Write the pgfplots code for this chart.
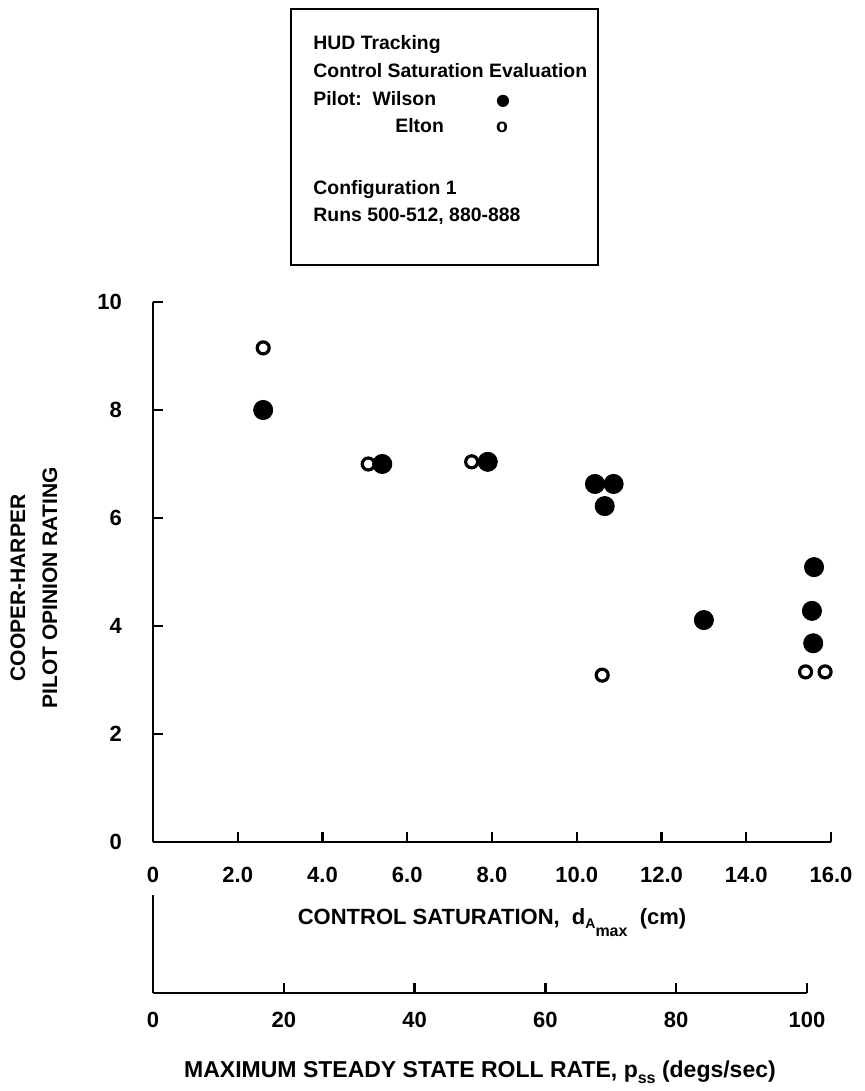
\documentclass[border=0pt]{standalone}
\usepackage{pgfplots}
\pgfplotsset{compat=1.18}
\usepackage{fontspec}
\setmainfont{Liberation Sans}
\newfontfamily\symfont{DejaVu Sans}
\begin{document}
\begin{tikzpicture}[x=1pt,y=1pt]
\useasboundingbox (0,0) rectangle (432,545.5);
% ---------- info box ----------
\draw[line width=1pt] (145.5,413) rectangle (299,541);
\begin{scope}[every node/.style={anchor=base west, inner sep=0pt, font=\bfseries\fontsize{9.7}{11}\selectfont}]
\node at (156.5,520.5) {HUD Tracking};
\node at (156.5,506.5) {Control Saturation Evaluation};
\node at (156.5,492.5) {Pilot:\ \ Wilson};
\node at (197.5,479) {Elton};
\node at (156.5,448) {Configuration 1};
\node at (156.5,434.5) {Runs 500-512, 880-888};
\end{scope}
\node[anchor=base, inner sep=0pt, font=\symfont\fontsize{8}{9}\selectfont] at (251.5,492.5) {●};
\node[anchor=base, inner sep=0pt, font=\bfseries\fontsize{9.7}{11}\selectfont] at (251,479) {o};
% ---------- main axis ----------
\begin{axis}[
  at={(76.5pt,124.5pt)}, anchor=south west,
  scale only axis, width=339pt, height=270pt,
  xmin=0, xmax=16, ymin=0, ymax=10,
  axis x line=bottom, axis y line=left,
  axis line style={-, line width=1.4pt},
  tick align=inside, major tick length=5pt,
  every tick/.style={black, line width=1.2pt},
  xtick={0,2,...,16},
  xticklabels={0,2.0,4.0,6.0,8.0,10.0,12.0,14.0,16.0},
  ytick={0,2,...,10},
  ticklabel style={font=\bfseries\fontsize{11}{13}\selectfont},
  /pgf/number format/assume math mode=true,
  xticklabel style={yshift=-9pt},
  yticklabel style={xshift=-12pt},
  clip=false,
]
\addplot[only marks, mark=*, mark size=4.8pt, black] coordinates {
 (2.60,8.00) (5.41,7.00) (7.90,7.04) (10.43,6.63) (10.87,6.63)
 (10.66,6.22) (13.00,4.11) (15.60,5.09) (15.55,4.28) (15.58,3.68)
};
\addplot[only marks, mark=o, mark size=3pt, line width=1.6pt, black] coordinates {
 (2.60,9.15) (5.08,7.00) (7.52,7.04) (10.60,3.09) (15.40,3.15) (15.86,3.15)
};
\node[anchor=base, inner sep=0pt, font=\bfseries\fontsize{11}{13}\selectfont]
  at (rel axis cs:0.5,0) [yshift=-41.5pt]
  {CONTROL SATURATION,\ \ d\raisebox{-2pt}{\fontsize{7}{8}\selectfont A}\raisebox{-6pt}{\fontsize{8}{9}\selectfont max}\ \ (cm)};
\node[xshift=-59.5pt, yshift=-8pt, rotate=90, inner sep=0pt, align=center, font=\bfseries\fontsize{10.5}{16}\selectfont]
  at (rel axis cs:0,0.5)
  {COOPER-HARPER\\PILOT OPINION RATING};
\end{axis}
% ---------- secondary axis ----------
\begin{axis}[
  at={(76.5pt,49pt)}, anchor=south west,
  scale only axis, width=327pt, height=49pt,
  xmin=0, xmax=100, ymin=0, ymax=1,
  axis x line=bottom, axis y line=left,
  axis line style={-, line width=1.4pt},
  tick align=inside, major tick length=5pt,
  every tick/.style={black, line width=1.2pt},
  xtick={0,20,...,100}, ytick=\empty,
  ticklabel style={font=\bfseries\fontsize{11}{13}\selectfont},
  /pgf/number format/assume math mode=true,
  xticklabel style={yshift=-6pt},
  clip=false,
]
\node[anchor=base, inner sep=0pt, font=\bfseries\fontsize{11.5}{13}\selectfont]
  at (rel axis cs:0.5,0) [yshift=-42pt]
  {MAXIMUM STEADY STATE ROLL RATE, p\raisebox{-3pt}{\fontsize{8}{9}\selectfont ss} (degs/sec)};
\end{axis}
\end{tikzpicture}
\end{document}
